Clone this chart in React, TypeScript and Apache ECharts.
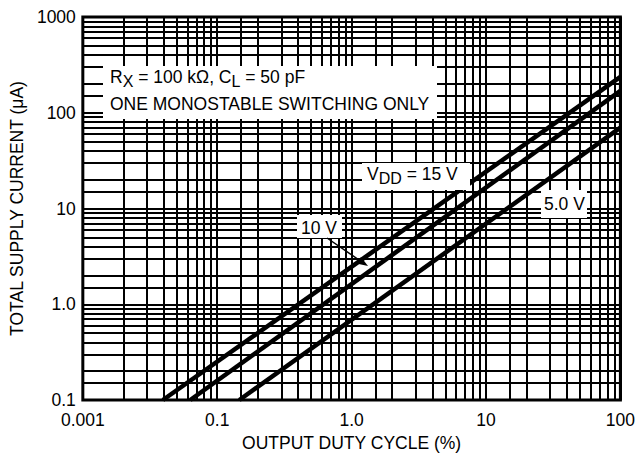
import React, { useEffect, useRef } from 'react';
import * as echarts from 'echarts';

// Axis ticks and labels (the leftmost label reads "0.001" in the original)
const xDecades = [0.01, 0.1, 1, 10];
const yDecades = [0.1, 1, 10, 100];
const xTickLabels = ['0.001', '0.1', '1.0', '10', '100'];
const yTickLabels = ['0.1', '1.0', '10', '100', '1000'];
const gridMultipliers = [1, 1.5, 2, 3, 4, 5, 6, 7, 8, 9];
const xMax = 100;
const yMax = 1000;

// Curves: [duty cycle %, supply current µA]
const series15V = [[0.0394, 0.1], [100, 237]];
const series10V = [[0.063, 0.1], [100, 169]];
const series5V = [[0.146, 0.1], [100, 70]];

const FONT = '"Liberation Sans", Arial, Helvetica, sans-serif';

export default function App() {
  const ref = useRef<HTMLDivElement>(null);
  useEffect(() => {
    if (!ref.current) return;
    const chart = echarts.init(ref.current, null, { renderer: 'svg' });

    const xGrid: number[] = [];
    xDecades.forEach((d) => gridMultipliers.forEach((m) => xGrid.push(d * m)));
    xGrid.push(xMax);
    const yGrid: number[] = [];
    yDecades.forEach((d) => gridMultipliers.forEach((m) => yGrid.push(d * m)));
    yGrid.push(yMax);

    const gridLineStyle = { color: '#000', width: 2, type: 'solid' as const };
    const curveStyle = { color: '#000', width: 4.5 };
    const txt = { fontFamily: FONT, fontSize: 17.5, fill: '#000' };
    const richMain = { fontFamily: FONT, fontSize: 17.5, lineHeight: 20, verticalAlign: 'top', fill: '#000' };
    const richSub = { fontFamily: FONT, fontSize: 16, lineHeight: 20, verticalAlign: 'top', padding: [5, 0, 0, 0], fill: '#000' };

    const option: any = {
      animation: false,
      backgroundColor: '#fff',
      grid: { left: 75, right: 14, top: 17, bottom: 60, show: true, borderColor: '#000', borderWidth: 3, backgroundColor: 'transparent' },
      xAxis: {
        type: 'log', logBase: 10, min: 0.01, max: xMax, splitNumber: 4,
        name: 'OUTPUT DUTY CYCLE (%)', nameLocation: 'middle', nameGap: 33,
        nameTextStyle: { fontFamily: FONT, fontSize: 17.5, color: '#000' },
        axisLine: { show: false }, axisTick: { show: false }, splitLine: { show: false },
        axisLabel: {
          fontFamily: FONT, fontSize: 17.5, color: '#000', margin: 11,
          formatter: (v: number) => xTickLabels[Math.round(Math.log10(v)) + 2] ?? '',
        },
      },
      yAxis: {
        type: 'log', logBase: 10, min: 0.1, max: yMax, splitNumber: 4,
        name: 'TOTAL SUPPLY CURRENT (\u03bcA)', nameLocation: 'middle', nameGap: 50,
        nameTextStyle: { fontFamily: FONT, fontSize: 17.5, color: '#000' },
        axisLine: { show: false }, axisTick: { show: false }, splitLine: { show: false },
        axisLabel: {
          fontFamily: FONT, fontSize: 17.5, color: '#000', margin: 7,
          formatter: (v: number) => yTickLabels[Math.round(Math.log10(v)) + 1] ?? '',
        },
      },
      series: [
        {
          type: 'line', data: [], silent: true, z: 1,
          markLine: {
            silent: true, symbol: ['none', 'none'], label: { show: false },
            lineStyle: gridLineStyle, emphasis: { disabled: true },
            data: [
              ...xGrid.map((v) => ({ xAxis: v })),
              ...yGrid.map((v) => ({ yAxis: v })),
            ],
          },
        },
        { type: 'line', name: '15 V', data: series15V, symbol: 'none', lineStyle: curveStyle, z: 5, silent: true },
        { type: 'line', name: '10 V', data: series10V, symbol: 'none', lineStyle: curveStyle, z: 5, silent: true },
        { type: 'line', name: '5.0 V', data: series5V, symbol: 'none', lineStyle: curveStyle, z: 5, silent: true },
      ],
      graphic: [
        { type: 'rect', z: 100, shape: { x: 103, y: 66, width: 334, height: 53 }, style: { fill: '#fff' } },
        {
          type: 'text', z: 101, x: 110, y: 68,
          style: {
            text: '{a|R}{s|X}{a| = 100 k\u03a9, C}{s|L}{a| = 50 pF}',
            rich: { a: richMain, s: richSub },
          },
        },
        { type: 'text', z: 101, x: 110, y: 104, style: { ...txt, text: 'ONE MONOSTABLE SWITCHING ONLY', verticalAlign: 'middle' } },

        { type: 'rect', z: 100, shape: { x: 362, y: 163, width: 108, height: 27 }, style: { fill: '#fff' } },
        {
          type: 'text', z: 101, x: 367, y: 165,
          style: { text: '{a|V}{s|DD}{a| = 15 V}', rich: { a: richMain, s: richSub } },
        },

        { type: 'rect', z: 100, shape: { x: 297, y: 215, width: 45, height: 23 }, style: { fill: '#fff' } },
        { type: 'text', z: 101, x: 301, y: 228, style: { ...txt, text: '10 V', verticalAlign: 'middle' } },
        { type: 'line', z: 101, shape: { x1: 327, y1: 238, x2: 362, y2: 262 }, style: { stroke: '#000', lineWidth: 1.5 } },
        { type: 'polygon', z: 101, shape: { points: [[368, 266], [356.5, 263.5], [361, 257]] }, style: { fill: '#000' } },

        { type: 'rect', z: 100, shape: { x: 541, y: 190, width: 46, height: 28 }, style: { fill: '#fff' } },
        { type: 'text', z: 101, x: 544, y: 204, style: { ...txt, text: '5.0 V', verticalAlign: 'middle' } },
      ],
    };
    chart.setOption(option);
    return () => chart.dispose();
  }, []);
  return <div ref={ref} style={{ position: 'fixed', left: 0, top: 0, width: 638, height: 460 }} />;
}
